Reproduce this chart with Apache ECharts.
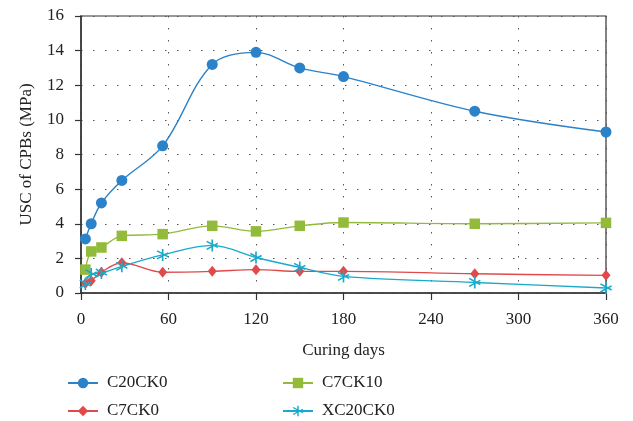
<!DOCTYPE html>
<html>
<head>
<meta charset="utf-8">
<script src="https://cdn.jsdelivr.net/npm/echarts@6/dist/echarts.min.js"></script>
<style>html,body{margin:0;padding:0;background:#fff;}#c{width:633px;height:421px;}</style>
</head>
<body>
<div id="c"></div>
<script>
var days = [3, 7, 14, 28, 56, 90, 120, 150, 180, 270, 360];
var C20CK0 = [3.12, 4.0, 5.2, 6.5, 8.5, 13.2, 13.9, 13.0, 12.5, 10.5, 9.3];
var C7CK0 = [0.55, 0.71, 1.2, 1.75, 1.2, 1.25, 1.35, 1.25, 1.25, 1.11, 1.02];
var C7CK10 = [1.35, 2.4, 2.63, 3.3, 3.4, 3.88, 3.56, 3.88, 4.07, 4.0, 4.05];
var XC20CK0 = [0.52, 1.1, 1.15, 1.54, 2.2, 2.75, 2.05, 1.48, 0.96, 0.61, 0.29];
var xTicks = [0, 60, 120, 180, 240, 300, 360];
var yTicks = [0, 2, 4, 6, 8, 10, 12, 14, 16];
var legendOrder = ['C20CK0', 'C7CK0', 'C7CK10', 'XC20CK0'];

var font = "'Liberation Serif', 'DejaVu Serif', serif";
var asterisk = 'path://M8.7,0h2.6v20h-2.6z M0.6,4.4L1.9,2.2L19.4,12.3L18.1,14.5z M0.6,15.6L18.1,5.5L19.4,7.7L1.9,17.8z';

function pairs(ys){ return days.map(function(d,i){ return [d, ys[i]]; }); }
function mk(name, ys, color, symbol, size){
  return {
    name: name, type: 'line', data: pairs(ys), smooth: 0.35,
    symbol: symbol, symbolSize: size, showSymbol: true,
    lineStyle: {color: color, width: 1.4},
    itemStyle: {color: color},
    emphasis: {disabled: true}, z: 3
  };
}

var chart = echarts.init(document.getElementById('c'), null, {renderer: 'canvas'});
chart.setOption({
  animation: false,
  backgroundColor: '#fff',
  grid: {left: 81, right: 27, top: 16, bottom: 128, show: true, borderColor: '#333', borderWidth: 1.2},
  xAxis: {
    type: 'value', min: 0, max: 360, interval: 60,
    name: 'Curing days', nameLocation: 'middle', nameGap: 49,
    nameTextStyle: {fontFamily: font, fontSize: 17, color: '#222'},
    axisLine: {show: true, lineStyle: {color: '#333', width: 1.5}},
    axisTick: {show: true, inside: false, length: 7, lineStyle: {color: '#333', width: 1.2}},
    axisLabel: {fontFamily: font, fontSize: 17, color: '#222', margin: 18,
      formatter: function(v){ return xTicks.indexOf(v) >= 0 ? String(v) : ''; }},
    splitLine: {show: true, lineStyle: {color: '#555', width: 1, type: [1.5, 10.5]}}
  },
  yAxis: {
    type: 'value', min: 0, max: 16, interval: 2,
    name: 'USC of CPBs (MPa)', nameLocation: 'middle', nameGap: 46,
    nameTextStyle: {fontFamily: font, fontSize: 17, color: '#222'},
    axisLine: {show: true, lineStyle: {color: '#333', width: 1.5}},
    axisTick: {show: true, inside: false, length: 6, lineStyle: {color: '#333', width: 1.2}},
    axisLabel: {fontFamily: font, fontSize: 17, color: '#222', margin: 17,
      formatter: function(v){ return yTicks.indexOf(v) >= 0 ? String(v) : ''; }},
    splitLine: {show: true, lineStyle: {color: '#555', width: 1, type: [1.5, 10.5]}}
  },
  legend: {
    data: legendOrder, orient: 'vertical', left: 67, top: 374, width: 560, height: 50,
    itemWidth: 30, itemHeight: 13, itemGap: 10, padding: 0,
    textStyle: {fontFamily: font, fontSize: 17, color: '#222', lineHeight: 18, width: 165, padding: [0,0,0,4]}
  },
  series: [
    mk('C20CK0', C20CK0, '#2b82c9', 'circle', 11),
    mk('C7CK0', C7CK0, '#e04a4a', 'diamond', [9, 11]),
    mk('C7CK10', C7CK10, '#93bb3b', 'rect', 10.5),
    mk('XC20CK0', XC20CK0, '#19aacb', asterisk, 12)
  ]
});
</script>
</body>
</html>
